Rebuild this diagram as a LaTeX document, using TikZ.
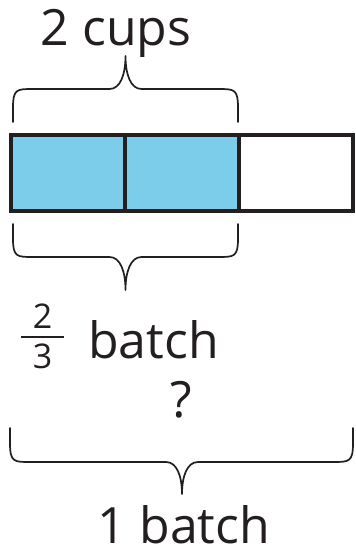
\documentclass[tikz,border=0pt]{standalone}
\usepackage{fontspec}
\setmainfont{Open Sans}
\definecolor{barblue}{HTML}{7BCDE9}
\definecolor{ink}{HTML}{231F20}
\newcommand\mybrace[6]{% x1 x2 xc yend yh ytip
  \draw[bracestyle] (#1,#4) -- (#1,{#4+(#5-#4)*0.45})
    .. controls (#1,{#5}) and ({#1+4},#5) .. ({#1+20},#5)
    -- ({#3-16},#5)
    .. controls ({#3-5},#5) and (#3,{#5+(#6-#5)*0.45}) .. (#3,#6)
    .. controls (#3,{#5+(#6-#5)*0.45}) and ({#3+5},#5) .. ({#3+16},#5)
    -- ({#2-20},#5)
    .. controls ({#2-4},#5) and (#2,#5) .. (#2,{#4+(#5-#4)*0.45})
    -- (#2,#4);}
\begin{document}
\begin{tikzpicture}[x=1pt,y=-1pt,
  bracestyle/.style={draw=ink,line width=1.7pt,line cap=round,line join=round},
  cell/.style={draw=ink,line width=3.8pt},
  lbl/.style={text=ink,font=\fontsize{50}{50}\selectfont,anchor=base,inner sep=0pt},
  fracnum/.style={text=ink,font=\fontsize{34}{34}\selectfont,anchor=base,inner sep=0pt}]
\useasboundingbox (0,0) rectangle (356,550);
% bar
\filldraw[cell,fill=barblue] (11,135) rectangle (125,211);
\filldraw[cell,fill=barblue] (125,135) rectangle (239,211);
\filldraw[cell,fill=white] (239,135) rectangle (353,211);
% braces
\mybrace{13}{238}{125.5}{122}{89}{56}
\mybrace{13}{238}{125.5}{224}{257}{290}
\mybrace{10}{353}{182}{428}{462}{494}
% labels
\node[lbl] (cups) at (116,45) {2 cups};
\node[fracnum] (num) at (42.5,328) {2};
\node[fracnum] (den) at (42.5,368) {3};
\draw[ink,line width=2.8pt] (21,337) -- (64,337);
\node[lbl,anchor=base west] (batch) at (88,358) {batch};
\node[lbl] (q) at (181,417) {?};
\node[lbl] (one) at (184,543) {1 batch};
\end{tikzpicture}
\end{document}
